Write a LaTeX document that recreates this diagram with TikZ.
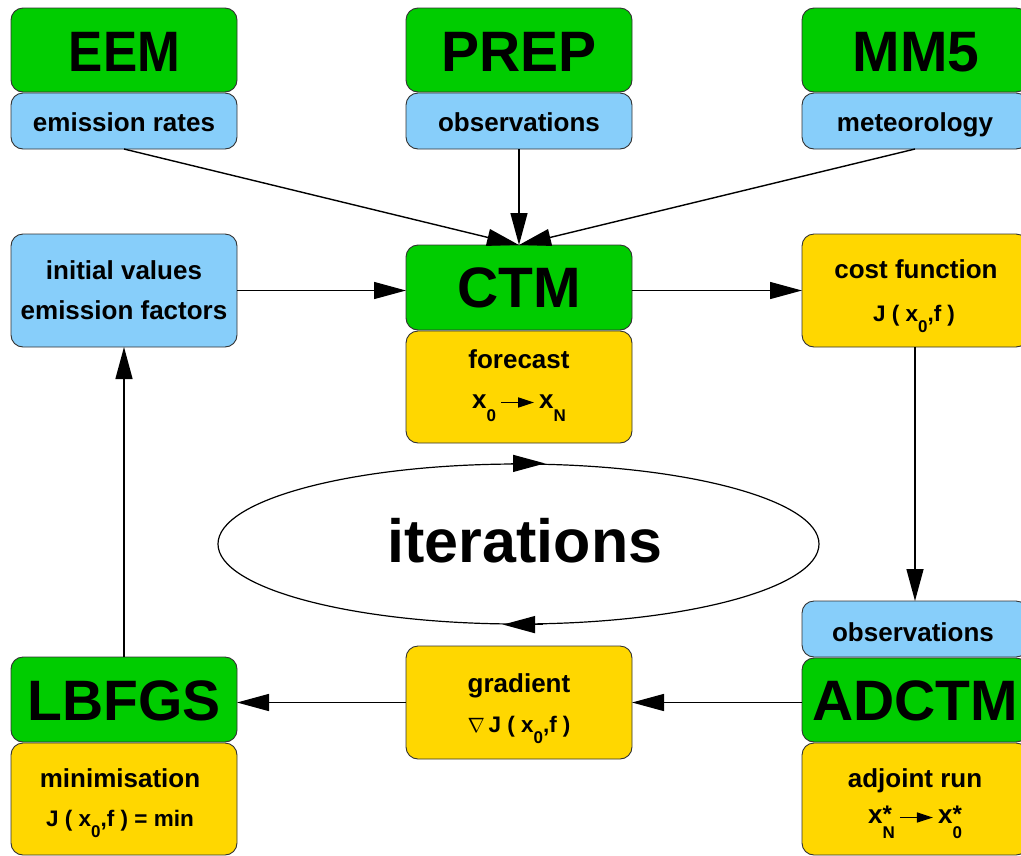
\documentclass[tikz,border=0pt]{standalone}
\usepackage{fontspec}
\setmainfont{Liberation Sans}
\usetikzlibrary{arrows.meta,shapes.geometric}
\definecolor{boxgreen}{RGB}{0,204,0}
\definecolor{boxblue}{RGB}{135,206,250}
\definecolor{boxyellow}{RGB}{255,215,0}
\definecolor{edgegray}{RGB}{50,50,50}
\newcommand{\lowsub}[1]{\raisebox{-0.5em}{\fontsize{17}{17}\selectfont #1}}
\newcommand{\starsub}[1]{\raisebox{-0.6em}{\fontsize{17}{17}\selectfont\begin{tabular}[b]{@{}l@{}}\raisebox{0pt}[0pt][0pt]{\raisebox{-0.5pt}{\fontsize{24}{24}\selectfont *}}\\#1\end{tabular}}}
\newcommand{\mapsarrow}{\,\tikz[baseline=0pt]\draw[line width=1.6pt,-{Triangle[length=16pt,width=10pt]}](0pt,5.5pt)--(33pt,5.5pt);\,}
\tikzset{
  box/.style={draw=edgegray, line width=0.9pt, rounded corners=12pt, inner sep=0pt, outer sep=0pt, minimum width=226pt, anchor=north west},
  gbox/.style={box, fill=boxgreen},
  bbox/.style={box, fill=boxblue},
  ybox/.style={box, fill=boxyellow},
  lbl/.style={anchor=base, inner sep=0pt, font=\fontsize{26}{26}\selectfont\bfseries},
  slbl/.style={anchor=base, inner sep=0pt, font=\fontsize{22.5}{22.5}\selectfont\bfseries},
  biglbl/.style={anchor=base, inner sep=0pt, font=\fontsize{57}{57}\selectfont\bfseries},
  arr/.style={line width=1.4pt, -{Triangle[length=32pt,width=17pt]}}
}
\begin{document}
\begin{tikzpicture}[x=1pt,y=-1pt]
\useasboundingbox (0,0) rectangle (1021,855);
% top row
\node[gbox, minimum height=84pt] (eem) at (11,8) {};
\node[bbox, minimum height=56pt] (er) at (11,93) {};
\node[gbox, minimum height=84pt] (prep) at (406,8) {};
\node[bbox, minimum height=56pt] (obs) at (406,93) {};
\node[gbox, minimum height=84pt] (mm5) at (802,8) {};
\node[bbox, minimum height=56pt] (met) at (802,93) {};
% middle row
\node[bbox, minimum height=113pt] (init) at (11,234) {};
\node[gbox, minimum height=85pt] (ctm) at (406,245) {};
\node[ybox, minimum height=112pt] (fc) at (406,331) {};
\node[ybox, minimum height=113pt] (cost) at (802,234) {};
% bottom row
\node[bbox, minimum height=56pt] (obs2) at (802,601) {};
\node[gbox, minimum height=84pt] (adctm) at (802,658) {};
\node[ybox, minimum height=112pt] (adj) at (802,743) {};
\node[ybox, minimum height=113pt] (grad) at (406,646) {};
\node[gbox, minimum height=85pt] (lbfgs) at (11,657) {};
\node[ybox, minimum height=112pt] (mini) at (11,743) {};
% ellipse
\node[draw, ellipse, line width=1.2pt, inner sep=0pt, minimum width=601pt, minimum height=160pt] (loop) at (518.5,544) {};
\node[biglbl, font=\fontsize{61}{61}\selectfont\bfseries] (itxt) at (525,562) {iterations};
\draw[arr] ([xshift=-8pt]loop.north) -- ([xshift=26.5pt]loop.north);
\draw[arr] ([xshift=24pt]loop.south) -- ([xshift=-15.5pt]loop.south);
% texts
\node[biglbl] (teem) at (124.5,71) {\scalebox{0.9}[1]{EEM}};
\node[lbl] (ter) at (124,131) {emission rates};
\node[biglbl] (tprep) at (519,71) {PREP};
\node[lbl] (tobs) at (519,131) {observations};
\node[biglbl] (tmm5) at (916,71) {MM5};
\node[lbl] (tmet) at (915,131) {meteorology};
\node[lbl] (tinit1) at (124,279) {initial values};
\node[lbl] (tinit2) at (124,319) {emission factors};
\node[biglbl] (tctm) at (519,307) {CTM};
\node[lbl] (tfc1) at (519,368) {forecast};
\node[lbl] (tfc2) at (519,408) {x\lowsub{0}\mapsarrow x\lowsub{N}};
\node[lbl] (tcost1) at (916,278) {cost function};
\node[slbl] (tcost2) at (914,321) {J ( x\lowsub{0},f )};
\node[lbl] (tobs2) at (913,641) {observations};
\node[biglbl] (tadctm) at (915,720) {ADCTM};
\node[lbl] (tadj1) at (915,787) {adjoint run};
\node[lbl] (tadj2) at (915,823) {x\starsub{N}\mapsarrow x\starsub{0}};
\node[lbl] (tgrad1) at (519,692) {gradient};
\node[slbl] (tgrad2) at (519,732) {$\nabla$\,J ( x\lowsub{0},f )};
\node[biglbl] (tlbfgs) at (124,720) {LBFGS};
\node[lbl] (tmin1) at (120,787) {minimisation};
\node[slbl] (tmin2) at (120,826) {J ( x\lowsub{0},f ) = min};
% connectors
\draw[arr] (er.south) -- (ctm.north);
\draw[arr] (obs.south) -- (ctm.north);
\draw[arr] (met.south) -- (ctm.north);
\draw[arr] (init.east) -- (init.east -| ctm.west);
\draw[arr] (ctm.east |- cost.west) -- (cost.west);
\draw[arr] (cost.south) -- (obs2.north);
\draw[arr] (adctm.west |- grad.east) -- (grad.east);
\draw[arr] (grad.west) -- (grad.west -| lbfgs.east);
\draw[arr] (lbfgs.north) -- (init.south);
\end{tikzpicture}
\end{document}
